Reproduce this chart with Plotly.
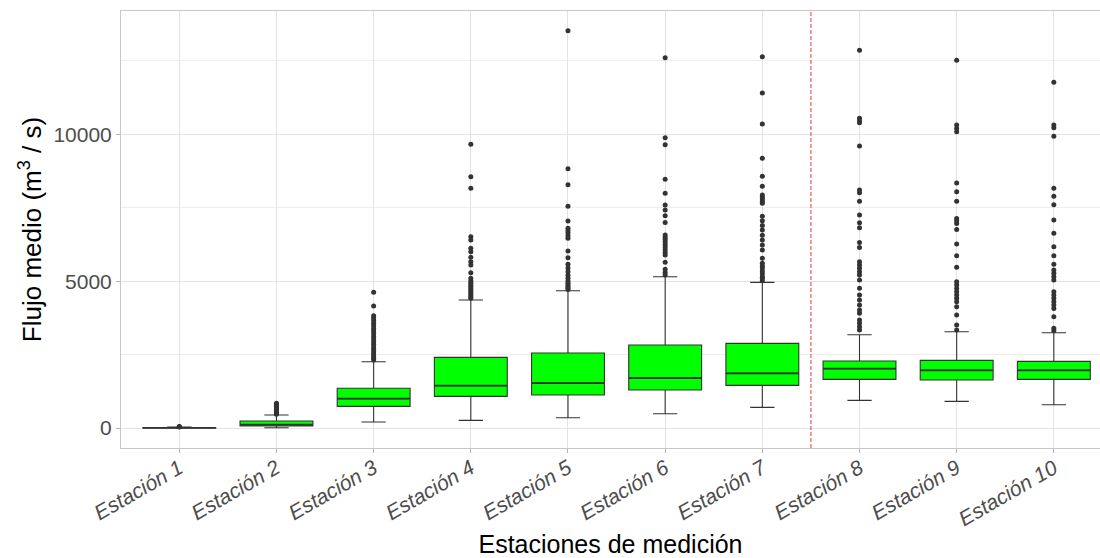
import plotly.graph_objects as go

# Stations along the x axis
stations = [f"Estación {i}" for i in range(1, 11)]

# Box statistics per station (m3/s)
lower_whisker = [0, 10, 204, 262, 351, 487, 704, 943, 909, 794]
q1 = [3, 68, 739, 1079, 1124, 1294, 1453, 1658, 1634, 1658]
median = [8, 115, 998, 1441, 1532, 1702, 1862, 2020, 1965, 1965]
q3 = [15, 238, 1352, 2407, 2554, 2826, 2883, 2281, 2305, 2271]
upper_whisker = [30, 443, 2258, 4358, 4675, 5152, 4960, 3177, 3280, 3246]

# Outlying observations per station
outliers_1 = [35, 45, 55]
outliers_2 = [470, 500, 530, 560, 590, 620, 650, 680, 710, 740, 770, 800, 841]
outliers_3 = [2320, 2380, 2450, 2520, 2600, 2680, 2760, 2850, 2940, 3030, 3120,
              3210, 3300, 3390, 3480, 3570, 3660, 3750, 3820, 4154, 4620]
outliers_4 = [4420, 4470, 4530, 4590, 4650, 4710, 4770, 4830, 4890, 4950, 5010,
              5097, 5288, 5550, 5662, 5811, 6003, 6118, 6401, 6514, 8161, 8557, 9660]
outliers_5 = [4720, 4770, 4811, 4870, 4927, 5000, 5097, 5200, 5322, 5450, 5573,
              5799, 6027, 6459, 6550, 6640, 6720, 6800, 7048, 7548, 8284, 8829, 13528]
outliers_6 = [5209, 5300, 5403, 5642, 5890, 5980, 6070, 6160, 6250, 6340, 6430,
              6500, 6572, 7002, 7230, 7423, 7593, 7991, 8467, 9646, 9885, 12608]
outliers_7 = [5016, 5100, 5152, 5250, 5350, 5450, 5520, 5607, 5777, 6061, 6230,
              6400, 6560, 6740, 6900, 7060, 7207, 7650, 7720, 7800, 7870, 7933,
              8229, 8569, 9183, 10351, 11406, 12642]
outliers_8 = [3337, 3450, 3564, 3677, 3905, 4018, 4188, 4358, 4528, 4757, 5039,
              5209, 5322, 5437, 5550, 5662, 6151, 6321, 6820, 6991, 7252, 7718,
              8013, 8104, 9602, 10395, 10463, 10545, 12860]
outliers_9 = [3337, 3507, 3847, 4131, 4301, 4415, 4528, 4641, 4754, 4868, 4981,
              5471, 5868, 6265, 6764, 6968, 7059, 7138, 7718, 8046, 8342, 10090,
              10203, 10317, 12519]
outliers_10 = [3314, 3394, 3790, 4074, 4188, 4301, 4415, 4528, 4641, 5039, 5152,
               5267, 5380, 5573, 5868, 6174, 6629, 7082, 7604, 7888, 8161, 9931,
               10226, 10317, 11770]
outliers = [outliers_1, outliers_2, outliers_3, outliers_4, outliers_5,
            outliers_6, outliers_7, outliers_8, outliers_9, outliers_10]

positions = list(range(1, len(stations) + 1))
BOX_WIDTH = 0.75

FONT = "Liberation Sans, Arial, sans-serif"
GRID = "#E3E3E3"
TEXT_GREY = "#4D4D4D"

fig = go.Figure()

fig.add_trace(go.Box(
    x=positions,
    q1=q1,
    median=median,
    q3=q3,
    lowerfence=lower_whisker,
    upperfence=upper_whisker,
    boxpoints=False,
    width=BOX_WIDTH,
    whiskerwidth=0.333,
    fillcolor="#00FF00",
    line=dict(color="#333333", width=1.1),
    showlegend=False,
    hoverinfo="skip",
))

# Heavier median bars on top of each box
med_x, med_y = [], []
for pos, m in zip(positions, median):
    med_x += [pos - BOX_WIDTH / 2, pos + BOX_WIDTH / 2, None]
    med_y += [m, m, None]
fig.add_trace(go.Scatter(
    x=med_x, y=med_y, mode="lines",
    line=dict(color="#333333", width=1.8),
    showlegend=False, hoverinfo="skip",
))

out_x, out_y = [], []
for pos, vals in zip(positions, outliers):
    out_x.extend([pos] * len(vals))
    out_y.extend(vals)

fig.add_trace(go.Scatter(
    x=out_x,
    y=out_y,
    mode="markers",
    marker=dict(color="#333333", size=5),
    showlegend=False,
    hoverinfo="skip",
))

# Separator between stations 7 and 8
fig.add_shape(
    type="line", xref="x", yref="paper",
    x0=7.5, x1=7.5, y0=0, y1=1,
    line=dict(color="rgba(232,60,60,0.9)", width=1.1, dash="4px,2px"),
    layer="above",
)

fig.update_layout(
    width=1100,
    height=558,
    margin=dict(l=121, r=0, t=11, b=110),
    paper_bgcolor="white",
    plot_bgcolor="white",
    font=dict(family=FONT, color=TEXT_GREY),
    xaxis=dict(
        range=[0.4, 10.475],
        tickmode="array",
        tickvals=positions,
        ticktext=[f"<i>{s}</i>" for s in stations],
        tickangle=-30,
        tickfont=dict(size=21, color=TEXT_GREY, family=FONT),
        ticklabelstandoff=-5,
        ticks="outside",
        ticklen=4,
        tickcolor="#B3B3B3",
        showgrid=True,
        gridcolor=GRID,
        gridwidth=1,
        zeroline=False,
        showline=True,
        linecolor="#C8C8C8",
        linewidth=1,
        mirror=True,
        title=dict(text="Estaciones de medición",
                   font=dict(size=25, color="black", family=FONT),
                   standoff=8),
    ),
    yaxis=dict(
        range=[-680, 14200],
        tickmode="array",
        tickvals=[0, 5000, 10000],
        ticktext=["0", "5000", "10000"],
        tickfont=dict(size=21, color=TEXT_GREY, family=FONT),
        ticks="outside",
        ticklen=4,
        tickcolor="#B3B3B3",
        showgrid=True,
        gridcolor=GRID,
        gridwidth=1,
        minor=dict(tickvals=[2500, 7500, 12500], showgrid=True,
                   gridcolor="#EDEDED", gridwidth=1, ticks=""),
        zeroline=False,
        showline=True,
        linecolor="#C8C8C8",
        linewidth=1,
        title=dict(text="Flujo medio (m<sup>3</sup> / s)",
                   font=dict(size=26, color="black", family=FONT),
                   standoff=4),
    ),
)

fig.write_html("out.html")
